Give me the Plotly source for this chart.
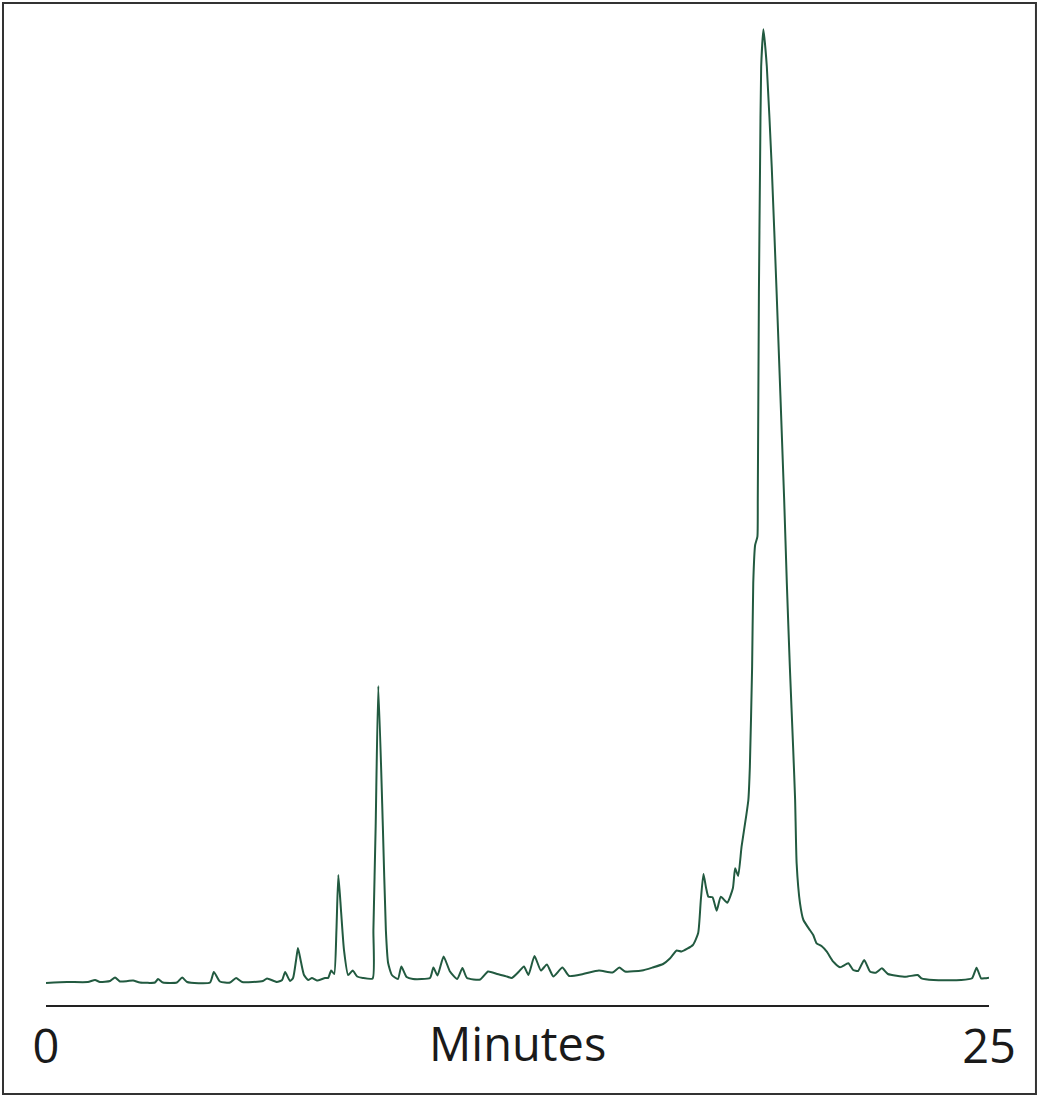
import plotly.graph_objects as go

# Chromatogram trace (time in minutes, detector response, arbitrary units)
time_min = [
    0.00, 0.56, 1.11, 1.30, 1.43, 1.70, 1.83, 1.96, 2.17, 2.31,
    2.49, 2.89, 2.97, 3.10, 3.47, 3.61, 3.74, 4.35, 4.45, 4.61,
    4.88, 5.04, 5.20, 5.75, 5.86, 6.12, 6.26, 6.34, 6.47, 6.55,
    6.63, 6.68, 6.76, 6.84, 6.95, 7.05, 7.18, 7.40, 7.48, 7.56,
    7.64, 7.70, 7.75, 7.82, 7.90, 8.01, 8.13, 8.25, 8.40, 8.66,
    8.68, 8.74, 8.81, 8.93, 9.01, 9.07, 9.17, 9.33, 9.42, 9.56,
    9.73, 10.18, 10.27, 10.38, 10.54, 10.71, 10.90, 11.04, 11.16, 11.51,
    11.72, 11.96, 12.22, 12.35, 12.54, 12.67, 12.79, 12.95, 13.12, 13.28,
    13.45, 13.69, 13.87, 14.24, 14.66, 15.02, 15.20, 15.35, 15.80, 16.08,
    16.36, 16.54, 16.72, 16.85, 17.15, 17.29, 17.36, 17.43, 17.50, 17.56,
    17.67, 17.78, 17.89, 18.06, 18.21, 18.27, 18.35, 18.44, 18.56, 18.62,
    18.66, 18.72, 18.75, 18.80, 18.86, 18.87, 18.90, 18.93, 18.96, 19.02,
    19.11, 19.24, 19.37, 19.57, 19.64, 19.72, 19.81, 19.86, 19.90, 19.99,
    20.08, 20.25, 20.34, 20.43, 20.56, 20.70, 20.87, 21.05, 21.27, 21.40,
    21.53, 21.69, 21.85, 22.00, 22.16, 22.32, 22.79, 23.11, 23.21, 23.53,
    24.26, 24.55, 24.67, 24.79, 24.89, 25.00,
]
response = [
    1, 2, 2, 4, 2, 3, 6.5, 2.5, 3, 3.5,
    1.5, 1.5, 5, 1.5, 1.5, 6.5, 2, 1.5, 12, 2.5,
    1.5, 6, 2, 3, 5.5, 2, 4, 12, 3, 6,
    24, 36, 22, 9, 4, 6, 3.5, 6, 6, 13.5,
    10, 54, 109, 74, 34, 9, 13.5, 7.5, 6, 5.5,
    54, 158, 298, 158, 54, 21, 9, 5, 17.5, 7,
    5, 6, 16.5, 8.5, 27.5, 12.5, 5, 16, 6, 4.5,
    12.5, 10, 7.5, 6, 12.5, 17.5, 9, 28, 13.5, 19.5,
    7.5, 16.5, 8, 10, 13.5, 11.5, 16.5, 12.5, 13.5, 16.5,
    20, 25.5, 33.5, 32.5, 39, 51, 84, 110, 96, 87.3,
    86.7, 73.3, 87.3, 81.3, 95.7, 115.7, 108, 137.3, 167.3, 184,
    217.3, 317.3, 401, 439, 447.3, 484, 691, 817.3, 917.3, 954.7,
    917.3, 817.3, 691, 484, 401, 317.3, 234, 184, 120.7, 80.7,
    64, 54, 49, 40.7, 38, 32.3, 22.3, 16.7, 20.7, 14,
    13, 24, 12.3, 11.3, 15.7, 10, 7.3, 9, 5.7, 4,
    4, 5.7, 16.3, 5.7, 5.7, 6.3,
]

x_ticks = [0, 25]
x_tick_labels = ["0", "25"]
x_title = "Minutes"

TRACE_COLOR = "#225a40"
INK = "#1a1a1a"
FONT = "Open Sans, Noto Sans, sans-serif"

fig = go.Figure()
fig.add_trace(go.Scatter(
    x=time_min,
    y=response,
    mode="lines",
    line=dict(color=TRACE_COLOR, width=2, shape="spline", smoothing=0.5),
    hovertemplate="%{x:.2f} min<br>%{y}<extra></extra>",
))

fig.update_layout(
    width=1041,
    height=1100,
    margin=dict(l=46, r=52, t=10, b=95),
    paper_bgcolor="white",
    plot_bgcolor="white",
    showlegend=False,
    font=dict(family=FONT, color=INK),
    xaxis=dict(
        range=[0, 25],
        tickvals=x_ticks,
        ticktext=x_tick_labels,
        tickfont=dict(size=47, color=INK),
        ticks="",
        ticklabelstandoff=0,
        showline=True,
        linecolor="#222222",
        linewidth=1.5,
        showgrid=False,
        zeroline=False,
    ),
    yaxis=dict(
        range=[-21, 974],
        visible=False,
        showgrid=False,
        zeroline=False,
    ),
    annotations=[
        dict(
            text=x_title,
            xref="paper", yref="paper",
            x=0.5, y=0,
            xanchor="center", yanchor="top",
            yshift=-4,
            showarrow=False,
            font=dict(size=47, color=INK, family=FONT),
        )
    ],
    shapes=[
        # frame around the whole figure
        dict(
            type="rect",
            xref="paper", yref="paper",
            x0=-0.0456, x1=1.0498, y0=-0.0894, y1=1.0070,
            line=dict(color="#333333", width=2),
            fillcolor="rgba(0,0,0,0)",
        )
    ],
)

# the page's default body margin would push the figure 8px off the window edge
fig.write_html(
    "out.html",
    config={"displayModeBar": False},
    post_script="document.body.style.margin = '0';",
)
